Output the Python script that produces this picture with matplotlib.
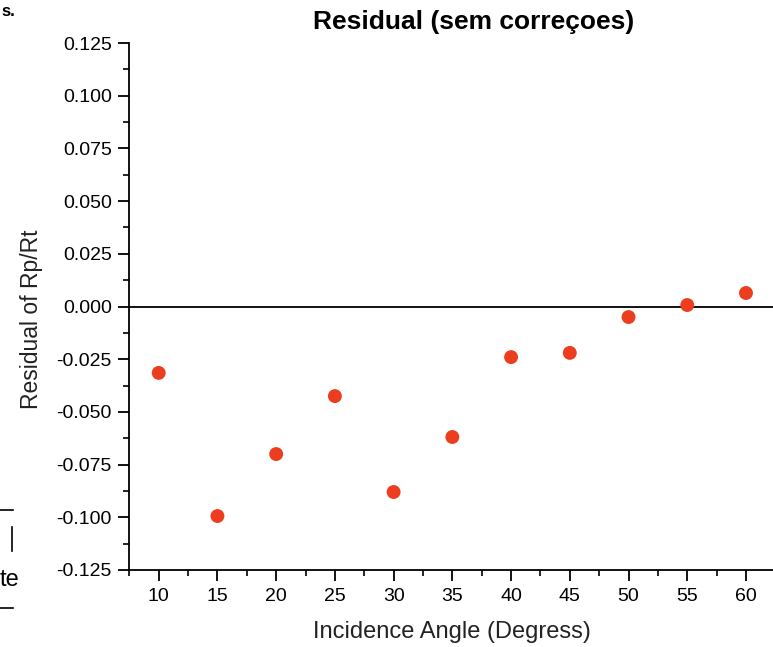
import matplotlib
matplotlib.use("Agg")
import matplotlib.pyplot as plt
from matplotlib.ticker import MultipleLocator, FormatStrFormatter
from matplotlib.lines import Line2D

plt.rcParams['font.family'] = ['Liberation Sans', 'DejaVu Sans']

angles = [10, 15, 20, 25, 30, 35, 40, 45, 50, 55, 60]
residuals = [-0.0315, -0.0994, -0.0700, -0.0425, -0.0880, -0.0619,
             -0.0240, -0.0220, -0.0050, 0.0007, 0.0064]
x_ticks = [10, 15, 20, 25, 30, 35, 40, 45, 50, 55, 60]
y_ticks = [-0.125, -0.100, -0.075, -0.050, -0.025, 0.000, 0.025, 0.050, 0.075, 0.100, 0.125]

W, H = 773, 647
fig = plt.figure(figsize=(W / 100, H / 100), dpi=100)
ax = fig.add_axes([129 / W, 1 - 570 / H, 1 - 129 / W, (570 - 43) / H])

ax.scatter(angles, residuals, s=100, color='#EC3D1E', edgecolors='none', zorder=3)
ax.axhline(0, color='black', lw=1.3, zorder=2)

ax.set_xlim(7.47, 62.3)
ax.set_ylim(-0.125, 0.125)
ax.set_xticks(x_ticks)
ax.set_yticks(y_ticks)
ax.yaxis.set_major_formatter(FormatStrFormatter('%.3f'))
ax.xaxis.set_minor_locator(MultipleLocator(2.5))
ax.yaxis.set_minor_locator(MultipleLocator(0.0125))
ax.tick_params(which='major', direction='out', length=8, width=1.3, labelsize=14, colors='black')
ax.tick_params(which='minor', direction='out', length=4, width=1.2)
ax.tick_params(axis='x', pad=5)
ax.tick_params(axis='y', pad=4.5)
for s in ['top', 'right']:
    ax.spines[s].set_visible(False)
for s in ['left', 'bottom']:
    ax.spines[s].set_linewidth(1.3)

fig.text(474 / W, 1 - 22 / H, 'Residual (sem correçoes)', ha='center', va='center',
         fontsize=19, fontweight='bold')
fig.text(452 / W, 1 - 632 / H, 'Incidence Angle (Degress)', ha='center', va='center',
         fontsize=17, color='#222222')
fig.text(32 / W, 1 - 319 / H, 'Residual of Rp/Rt', ha='center', va='center',
         fontsize=16.5, rotation=90, color='#222222')

# fragments of neighbouring figure at the left edge
fig.text(1 / W, 1 - 11 / H, 's.', ha='left', va='center', fontsize=12, fontweight='bold')
fig.text(0, 1 - 580 / H, 'te', ha='left', va='center', fontsize=17)
fig.add_artist(Line2D([0, 13 / W], [1 - 510 / H, 1 - 510 / H], color='black', lw=1.2, transform=fig.transFigure))
fig.add_artist(Line2D([12 / W, 12 / W], [1 - 527 / H, 1 - 551 / H], color='black', lw=1.2, transform=fig.transFigure))
fig.add_artist(Line2D([0, 13 / W], [1 - 608 / H, 1 - 608 / H], color='black', lw=1.2, transform=fig.transFigure))

fig.savefig('out.png', dpi=100)
